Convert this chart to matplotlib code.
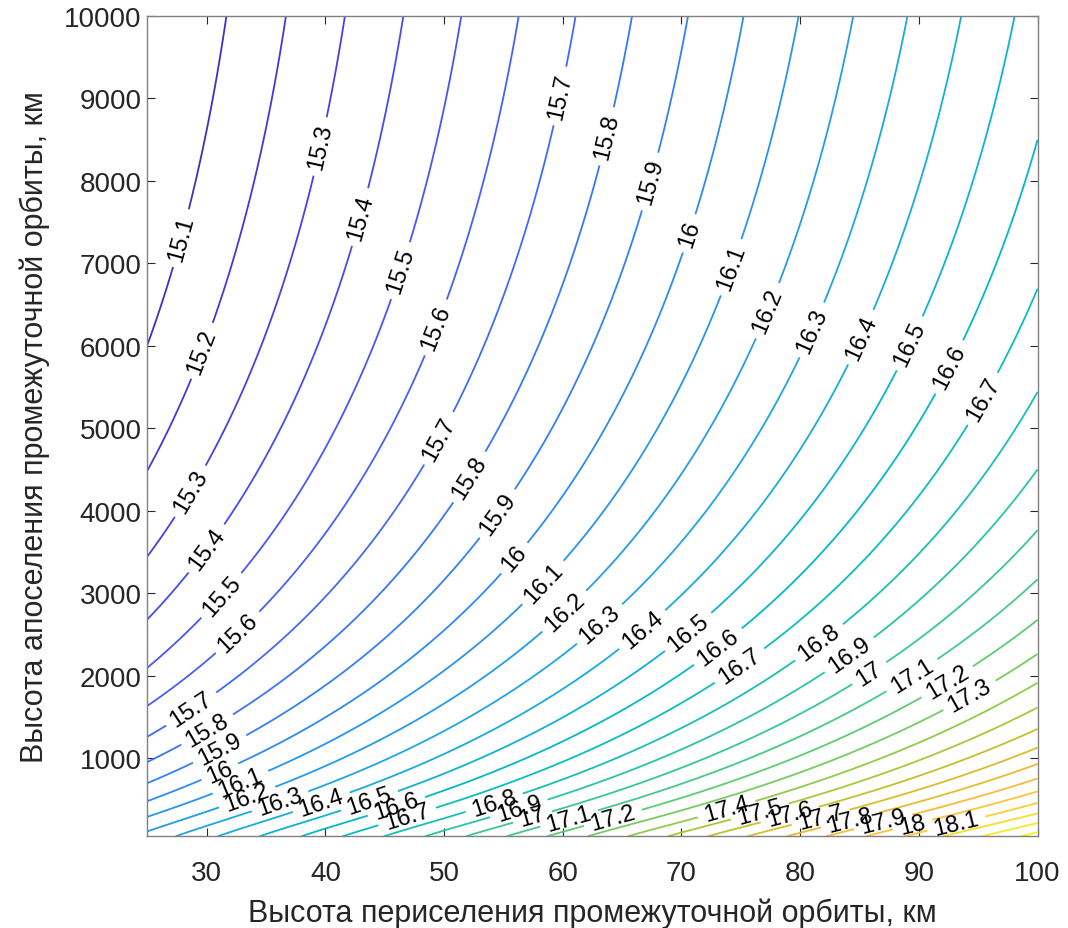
import numpy as np
import matplotlib
matplotlib.use("Agg")
import matplotlib.pyplot as plt
from matplotlib.colors import LinearSegmentedColormap, Normalize

# ---------------- data ----------------
# x (periselene height, km) where each contour crosses the top edge (apo = 10000 km)
top_levels = [15.1, 15.2, 15.3, 15.4, 15.5, 15.6, 15.7, 15.8, 15.9, 16.0,
              16.1, 16.2, 16.3, 16.4, 16.5]
top_x = [31.62, 36.74, 41.65, 46.56, 51.42, 56.31, 61.11, 65.88, 70.52, 75.26,
         79.84, 84.47, 89.02, 93.60, 98.09]
# aposelene height (km) where each contour crosses the left edge (peri = 25 km)
left_levels = [15.1, 15.2, 15.3, 15.4, 15.5, 15.6, 15.7, 15.8, 15.9, 16.0,
               16.1, 16.2]
left_y = [6260, 4665, 3575, 2765, 2160, 1675, 1280, 1030, 725, 505, 300, 140]
# aposelene height (km) where each contour crosses the right edge (peri = 100 km)
right_levels = [16.6, 16.7, 16.8, 16.9, 17.0, 17.1, 17.2, 17.3, 17.4, 17.5,
                17.6, 17.7, 17.8, 17.9, 18.0, 18.1, 18.2, 18.3, 18.4]
right_y = [8625, 6825, 5535, 4505, 3795, 3190, 2685, 2280, 1935, 1635,
           1370, 1150, 950, 765, 605, 465, 320, 210, 120]

contour_levels = [round(15.1 + 0.1 * i, 1) for i in range(35)]
x_range = (25, 100)
y_range = (50, 10000)
x_ticks = [30, 40, 50, 60, 70, 80, 90, 100]
y_ticks = [1000, 2000, 3000, 4000, 5000, 6000, 7000, 8000, 9000, 10000]
x_label = "Высота периселения промежуточной орбиты, км"
y_label = "Высота апоселения промежуточной орбиты, км"

# label anchor points (data coords) - MATLAB-like label placement
label_pts = [
    (27.5, 7315), (39.4, 8418), (42.6, 7570), (45.9, 6927), (49.0, 6236),
    (59.6, 9030), (63.6, 8539), (67.2, 7994), (70.3, 7376), (73.9, 6964),
    (76.9, 6442), (80.8, 6200), (84.9, 6115), (89.0, 6042), (92.4, 5752),
    (95.1, 5376),
    (29.2, 5958), (28.3, 4261), (29.7, 3570), (31.1, 2988), (32.5, 2539),
    (49.2, 4903), (52.0, 4418), (54.3, 3982), (55.7, 3449), (58.3, 3133),
    (60.2, 2770), (63.1, 2624), (66.8, 2539), (70.7, 2503), (73.1, 2345),
    (74.8, 2139), (81.7, 2382), (84.2, 2236), (85.7, 2055), (89.5, 1982),
    (92.5, 1897), (94.3, 1752),
    (28.8, 1570), (30.1, 1327), (31.0, 1133), (31.0, 867), (32.8, 721),
    (33.4, 527), (36.2, 467), (39.7, 442), (43.8, 442), (46.0, 406),
    (46.9, 285), (54.3, 418), (56.4, 345), (57.5, 261), (60.6, 236),
    (64.2, 285), (73.8, 382), (76.6, 358), (79.1, 321), (81.7, 297),
    (84.2, 261), (87.0, 224), (89.5, 176), (93.2, 176),
]

# ---------------- parula-like colormap ----------------
parula_pts = [
    (0.2422, 0.1504, 0.6603), (0.2647, 0.1978, 0.7952), (0.2783, 0.2559, 0.8991),
    (0.2810, 0.3228, 0.9579), (0.2699, 0.3892, 0.9906), (0.2206, 0.4603, 0.9973),
    (0.1786, 0.5289, 0.9682), (0.1540, 0.5902, 0.9218), (0.1248, 0.6459, 0.8883),
    (0.0689, 0.6948, 0.8394), (0.0067, 0.7312, 0.7660), (0.0964, 0.7500, 0.7120),
    (0.1938, 0.7758, 0.6251), (0.2906, 0.7973, 0.5188), (0.4456, 0.8024, 0.3909),
    (0.6174, 0.7876, 0.2612), (0.7738, 0.7598, 0.1646), (0.9035, 0.7330, 0.1774),
    (0.9956, 0.7434, 0.2371), (0.9892, 0.8136, 0.1885), (0.9597, 0.9135, 0.1423),
    (0.9769, 0.9839, 0.0805),
]
parula = LinearSegmentedColormap.from_list("parula", parula_pts, N=256)


def ycoord(y):
    return np.log(np.asarray(y, float) + 300.0)


# smooth least-squares profiles through the edge readings
pF = np.polyfit(top_x, top_levels, 2)
pL = np.polyfit(ycoord(left_y), left_levels, 3)
pR = np.polyfit(ycoord(right_y), right_levels, 3)

xs = np.linspace(x_range[0], x_range[1], 301)
ys = np.linspace(y_range[0], y_range[1], 500)
F = np.polyval(pF, xs)
F25 = np.polyval(pF, x_range[0])
ZL = np.polyval(pL, ycoord(ys))
ZR = np.polyval(pR, ycoord(ys))
ZL_top = np.polyval(pL, ycoord(y_range[1]))
ZR_top = np.polyval(pR, ycoord(y_range[1]))
t = (xs - x_range[0]) / (x_range[1] - x_range[0])
Z = (F[None, :] + (1 - t)[None, :] * (ZL - ZL_top)[:, None]
     + t[None, :] * (ZR - ZR_top)[:, None])
X, Y = np.meshgrid(xs, ys)

# ---------------- plot ----------------
plt.rcParams['font.family'] = ['Liberation Sans', 'DejaVu Sans']
fig = plt.figure(figsize=(10.68, 9.29), dpi=100)
ax = fig.add_axes([0.1380, 0.0986, 0.8335, 0.8836])

norm = Normalize(vmin=Z.min(), vmax=Z.max())
cs = ax.contour(X, Y, Z, levels=contour_levels, cmap=parula, norm=norm,
                linewidths=1.3)


def fmt(v):
    return f"{v:g}"


ax.clabel(cs, manual=label_pts, inline=True, inline_spacing=7,
          fontsize=17, fmt=fmt, colors='black')

ax.set_xlim(*x_range)
ax.set_ylim(*y_range)
ax.set_xticks(x_ticks)
ax.set_yticks(y_ticks)
ax.tick_params(direction='in', length=6, width=0.8, top=True, right=True,
               labelsize=20, colors='#262626')
ax.tick_params(axis='x', pad=17)
ax.tick_params(axis='y', pad=4)
for s in ax.spines.values():
    s.set_color('#808080')
    s.set_linewidth(1.0)
ax.set_xlabel(x_label, fontsize=22, color='#262626', labelpad=8)
ax.set_ylabel(y_label, fontsize=22, color='#262626', labelpad=10)

fig.savefig("out.png", dpi=100)
